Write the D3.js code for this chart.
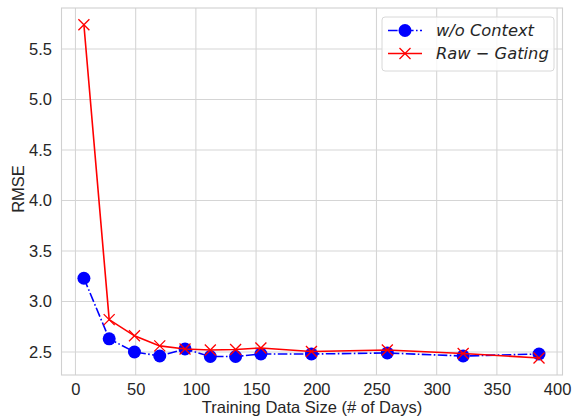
<!DOCTYPE html>
<html><head><meta charset="utf-8">
<script src="https://cdn.jsdelivr.net/npm/d3@7"></script>
<style>body{margin:0;background:#fff}svg{display:block}</style>
</head><body><svg id="c" width="573" height="419"></svg>
<script>
const days = [7, 28, 49, 70, 91, 112, 133, 154, 196, 259, 322, 385];
const woContext = [3.23, 2.63, 2.50, 2.46, 2.53, 2.455, 2.455, 2.48, 2.48, 2.49, 2.46, 2.48];
const rawGating = [5.74, 2.82, 2.66, 2.56, 2.53, 2.52, 2.525, 2.54, 2.505, 2.52, 2.485, 2.44];
const xTicks = [0, 50, 100, 150, 200, 250, 300, 350, 400];
const yTicks = [2.5, 3.0, 3.5, 4.0, 4.5, 5.0, 5.5];
const seriesNames = ["w/o Context", "Raw \u2212 Gating"];

const svg = d3.select("#c");
const L = 61.5, R = 562.5, T = 8, B = 375;
const x = d3.scaleLinear().domain([-11.6, 404.5]).range([L, R]);
const y = d3.scaleLinear().domain([2.272, 5.906]).range([B, T]);
const font = "Liberation Sans, Arial, sans-serif";
const lfont = "DejaVu Sans, sans-serif";
const txt = "#262626";

// grid
svg.append("g").selectAll("line").data(xTicks).join("line")
  .attr("x1", d => x(d)).attr("x2", d => x(d)).attr("y1", T).attr("y2", B)
  .attr("stroke", "#d5d5d5").attr("stroke-width", 1.1);
svg.append("g").selectAll("line").data(yTicks).join("line")
  .attr("y1", d => y(d)).attr("y2", d => y(d)).attr("x1", L).attr("x2", R)
  .attr("stroke", "#d5d5d5").attr("stroke-width", 1.1);
// frame
svg.append("rect").attr("x", L).attr("y", T).attr("width", R - L).attr("height", B - T)
  .attr("fill", "none").attr("stroke", "#d0d0d0").attr("stroke-width", 1.1);

// tick labels
const xa = svg.append("g").attr("transform", `translate(0,${B})`)
  .call(d3.axisBottom(x).tickValues(xTicks).tickSize(0).tickPadding(8).tickFormat(d3.format("d")));
xa.select(".domain").remove();
xa.selectAll("text").attr("font-family", font).attr("font-size", 16.5).attr("fill", txt);
const ya = svg.append("g").attr("transform", `translate(${L},0)`)
  .call(d3.axisLeft(y).tickValues(yTicks).tickSize(0).tickPadding(9.5).tickFormat(d3.format(".1f")));
ya.select(".domain").remove();
ya.selectAll("text").attr("font-family", font).attr("font-size", 16.5).attr("fill", txt);

svg.append("text").attr("x", 312).attr("y", 413).attr("text-anchor", "middle")
  .attr("font-family", font).attr("font-size", 16.5).attr("fill", txt).text("Training Data Size (# of Days)");
svg.append("text").attr("transform", `translate(23.5,189) rotate(-90)`).attr("text-anchor", "middle")
  .attr("font-family", font).attr("font-size", 16.5).attr("fill", txt).text("RMSE");

const line = d3.line().x(d => x(d[0])).y(d => y(d[1]));
const blueData = days.map((d, i) => [d, woContext[i]]);
const redData = days.map((d, i) => [d, rawGating[i]]);

svg.append("path").datum(blueData).attr("d", line).attr("fill", "none")
  .attr("stroke", "#0000ff").attr("stroke-width", 1.6).attr("stroke-dasharray", "9.6,2.4,1.6,2.4");
svg.append("g").selectAll("circle").data(blueData).join("circle")
  .attr("cx", d => x(d[0])).attr("cy", d => y(d[1])).attr("r", 6.5).attr("fill", "#0000ff");

svg.append("path").datum(redData).attr("d", line).attr("fill", "none")
  .attr("stroke", "#ff0000").attr("stroke-width", 1.6);
const xs = 5.5;
svg.append("g").selectAll("path").data(redData).join("path")
  .attr("d", d => { const cx = x(d[0]), cy = y(d[1]);
    return `M${cx - xs},${cy - xs}L${cx + xs},${cy + xs}M${cx - xs},${cy + xs}L${cx + xs},${cy - xs}`; })
  .attr("stroke", "#ff0000").attr("stroke-width", 1.3).attr("fill", "none");

// legend
const lg = svg.append("g");
lg.append("rect").attr("x", 382).attr("y", 17).attr("width", 172).attr("height", 54).attr("rx", 3)
  .attr("fill", "#ffffff").attr("fill-opacity", 0.8).attr("stroke", "#d8d8d8").attr("stroke-width", 1);
const rows = [30.5, 53.5];
lg.append("line").attr("x1", 388).attr("x2", 422).attr("y1", rows[0]).attr("y2", rows[0])
  .attr("stroke", "#0000ff").attr("stroke-width", 1.6).attr("stroke-dasharray", "9.6,2.4,1.6,2.4");
lg.append("circle").attr("cx", 405).attr("cy", rows[0]).attr("r", 6.5).attr("fill", "#0000ff");
lg.append("line").attr("x1", 388).attr("x2", 422).attr("y1", rows[1]).attr("y2", rows[1])
  .attr("stroke", "#ff0000").attr("stroke-width", 1.6);
lg.append("path").attr("d", `M${405 - xs},${rows[1] - xs}L${405 + xs},${rows[1] + xs}M${405 - xs},${rows[1] + xs}L${405 + xs},${rows[1] - xs}`)
  .attr("stroke", "#ff0000").attr("stroke-width", 1.3);
lg.selectAll("text.l").data(seriesNames).join("text").attr("class", "l")
  .attr("x", 436).attr("y", (d, i) => rows[i] + 5.8)
  .attr("font-family", lfont).attr("font-style", "italic").attr("font-size", 16.3).attr("fill", txt)
  .attr("xml:space", "preserve").text(d => d);
</script></body></html>
